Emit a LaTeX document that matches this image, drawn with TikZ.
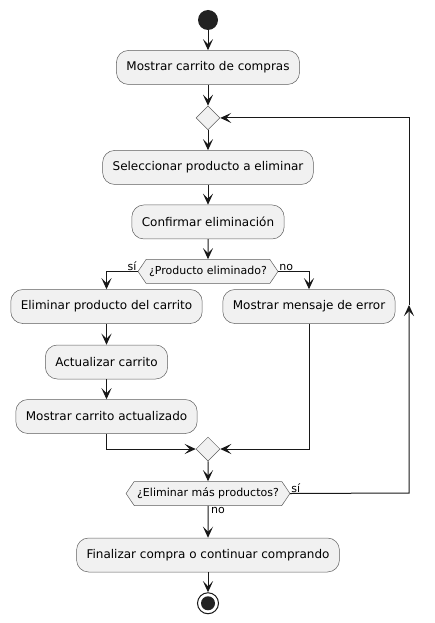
\documentclass[tikz,border=0pt]{standalone}
\usepackage{fontspec}
\setmainfont{DejaVu Sans}
\usetikzlibrary{arrows.meta, positioning, shapes.geometric, shapes.symbols}
\definecolor{boxfill}{HTML}{F1F1F1}
\definecolor{boxline}{HTML}{5D5D5D}
\definecolor{flow}{HTML}{181818}
\definecolor{dot}{HTML}{222222}
\tikzset{
  >={Stealth[length=11pt, width=10pt, inset=5pt]},
  node distance=20pt,
  action/.style={rectangle, rounded corners=12pt, draw=boxline, fill=boxfill,
    line width=0.5pt, minimum height=34pt, inner xsep=10pt,
    font=\fontsize{12}{14}\selectfont},
  merge/.style={diamond, draw=boxline, fill=boxfill, line width=0.5pt,
    minimum width=24pt, minimum height=24pt, inner sep=0pt},
  check/.style={signal, signal to=west and east, signal pointer angle=112,
    draw=boxline, fill=boxfill, line width=0.5pt, minimum height=24pt,
    inner xsep=3pt, font=\fontsize{11}{13}\selectfont},
  guard/.style={font=\fontsize{11}{13}\selectfont, inner sep=1pt},
  flow/.style={->, draw=flow, line width=1pt},
}

\begin{document}
\begin{tikzpicture}[x=1pt, y=1pt]
        \useasboundingbox (0,0) rectangle (434,-623);

        % main column
        \node[circle, fill=dot, minimum size=20pt, inner sep=0pt] (start) at (208,-20) {};
        \node[action, below=of start] (show) {Mostrar carrito de compras};
        \node[merge, below=21pt of show] (loop) {};
        \node[action, below=of loop] (select) {Seleccionar producto a eliminar};
        \node[action, below=of select] (confirm) {Confirmar eliminación};
        \node[check, below=of confirm] (removed) {¿Producto eliminado?};

        % branches
        \node[action] (delete) at (106.5,-306.5) {Eliminar producto del carrito};
        \node[action, below=21pt of delete] (update) {Actualizar carrito};
        \node[action, below=of update] (showupd) {Mostrar carrito actualizado};
        \node[action] (error) at (309,-306.5) {Mostrar mensaje de error};
        \node[merge] (join) at (208,-449) {};

        % end
        \node[check, below=of join] (more) {¿Eliminar más productos?};
        \node[action, below=32pt of more] (finish) {Finalizar compra o continuar comprando};
        \node[circle, draw=flow, line width=1pt, minimum size=21pt, inner sep=0pt, below=of finish] (stop) {};
        \node[circle, fill=dot, minimum size=14pt, inner sep=0pt] (stopdot) at (stop) {};

        % guards
        \node[guard, anchor=south east] (yes1) at (removed.west) {sí};
        \node[guard, anchor=south west] (no1) at (removed.east) {no};
        \node[guard, anchor=south west] (yes2) at (more.east) {sí};
        \node[guard, anchor=north west, xshift=2pt] (no2) at (more.south) {no};

        \coordinate (back) at (409,-493);
        \coordinate (backmid) at (409,-305);

        % transitions
        \draw[flow] (start) -- (show);
        \draw[flow] (show) -- (loop);
        \draw[flow] (loop) -- (select);
        \draw[flow] (select) -- (confirm);
        \draw[flow] (confirm) -- (removed);
        \draw[flow] (removed.west) -| (delete.north);
        \draw[flow] (removed.east) -| (error.north);
        \draw[flow] (delete) -- (update);
        \draw[flow] (update) -- (showupd);
        \draw[flow] (showupd.south) |- (join.west);
        \draw[flow] (error.south) |- (join.east);
        \draw[flow] (join) -- (more);
        \draw[flow] (more) -- (finish);
        \draw[flow] (finish) -- (stop);
        \draw[flow] (more.east) -- (back) -- (backmid);
        \draw[flow] (backmid) |- (loop.east);
\end{tikzpicture}
\end{document}
